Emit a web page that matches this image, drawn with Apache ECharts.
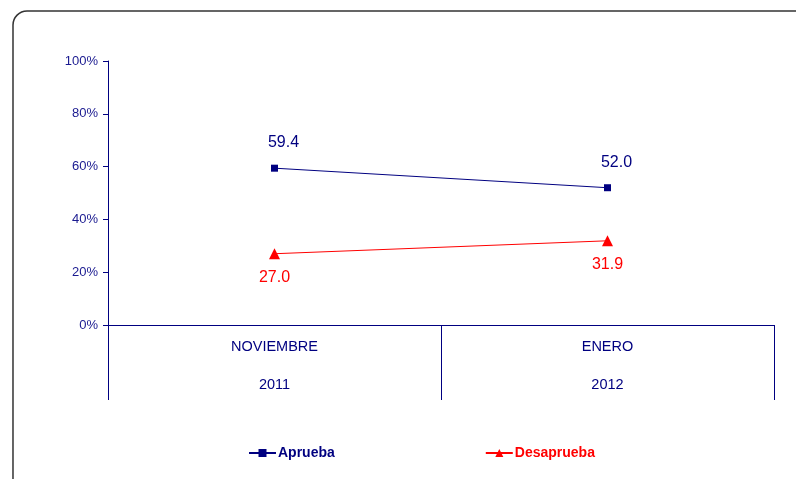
<!DOCTYPE html>
<html><head><meta charset="utf-8">
<script src="https://cdn.jsdelivr.net/npm/echarts@6/dist/echarts.min.js"></script>
<style>html,body{margin:0;padding:0;background:#fff}#c{width:796px;height:479px}</style>
</head><body><div id="c"></div>
<script>
const months = ['NOVIEMBRE', 'ENERO'];
const years = ['2011', '2012'];
const aprueba = [59.4, 52.0];
const desaprueba = [27.0, 31.9];
const yTicks = [0, 20, 40, 60, 80, 100];

const NAVY = '#000080';
const RED = '#FF0000';
const FONT = 'Liberation Sans, Arial, sans-serif';

const chart = echarts.init(document.getElementById('c'));
chart.setOption({
  animation: false,
  graphic: [{
    type: 'rect', shape: { x: 13, y: 11, width: 820, height: 500, r: 14 },
    style: { fill: 'none', stroke: '#333333', lineWidth: 1.5 }, z: -1
  }],
  grid: { left: 108, right: 22, top: 61, bottom: 154 },
  legend: {
    bottom: 14, left: 243, itemGap: 150, itemWidth: 27, itemHeight: 10,
    textStyle: { fontFamily: FONT, fontSize: 14, fontWeight: 'bold', padding: [0, 0, 0, -3] },
    data: [
      { name: 'Aprueba', textStyle: { color: NAVY } },
      { name: 'Desaprueba', textStyle: { color: RED } }
    ]
  },
  xAxis: {
    type: 'category', data: months, boundaryGap: true,
    axisLine: { lineStyle: { color: NAVY, width: 1 } },
    axisTick: { show: true, interval: 0, length: 75, lineStyle: { color: NAVY } },
    axisLabel: {
      interval: 0, margin: 3, lineHeight: 38, color: NAVY, fontFamily: FONT, fontSize: 14.5,
      formatter: (v, i) => v + '\n' + years[i]
    }
  },
  yAxis: {
    type: 'value', min: yTicks[0], max: yTicks[yTicks.length - 1], interval: 20,
    splitLine: { show: false },
    axisLine: { show: true, lineStyle: { color: NAVY } },
    axisTick: { show: true, length: 5, lineStyle: { color: NAVY } },
    axisLabel: { color: '#1a1a90', fontFamily: FONT, fontSize: 13, margin: 10, formatter: '{value}%' }
  },
  series: [
    {
      name: 'Aprueba', type: 'line', data: aprueba,
      symbol: 'rect', symbolSize: 7,
      lineStyle: { color: NAVY, width: 1 }, itemStyle: { color: NAVY },
      label: { show: true, position: 'top', distance: 14, offset: [9, 0], color: NAVY,
        fontFamily: FONT, fontSize: 16, formatter: p => p.value.toFixed(1) }
    },
    {
      name: 'Desaprueba', type: 'line', data: desaprueba,
      symbol: 'triangle', symbolSize: 11,
      lineStyle: { color: RED, width: 1 }, itemStyle: { color: RED },
      label: { show: true, position: 'bottom', distance: 10, color: RED,
        fontFamily: FONT, fontSize: 16, formatter: p => p.value.toFixed(1) }
    }
  ]
});
</script></body></html>
